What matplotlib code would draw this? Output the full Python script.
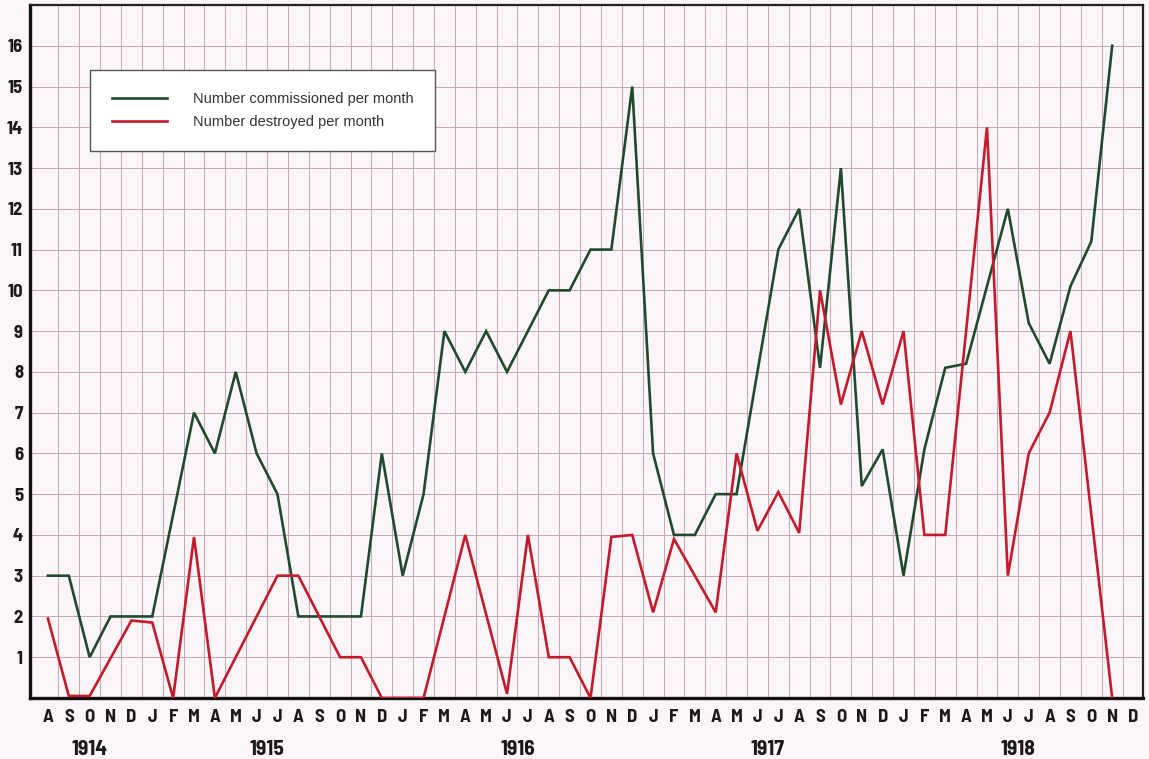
import matplotlib
matplotlib.use("Agg")
import matplotlib.pyplot as plt
import pandas as pd

# Month axis: August 1914 to December 1918
month_labels = ["A", "S", "O", "N", "D",
                "J", "F", "M", "A", "M", "J", "J", "A", "S", "O", "N", "D",
                "J", "F", "M", "A", "M", "J", "J", "A", "S", "O", "N", "D",
                "J", "F", "M", "A", "M", "J", "J", "A", "S", "O", "N", "D",
                "J", "F", "M", "A", "M", "J", "J", "A", "S", "O", "N", "D"]
years = ["1914", "1915", "1916", "1917", "1918"]

commissioned_months = [
    "1914-08", "1914-09", "1914-10", "1914-11", "1914-12",
    "1915-01", "1915-03", "1915-04", "1915-05", "1915-06", "1915-07",
    "1915-08", "1915-09", "1915-10", "1915-11", "1915-12",
    "1916-01", "1916-02", "1916-03", "1916-04", "1916-05", "1916-06",
    "1916-08", "1916-09", "1916-10", "1916-11", "1916-12",
    "1917-01", "1917-02", "1917-03", "1917-04", "1917-05",
    "1917-07", "1917-08", "1917-09", "1917-10", "1917-11", "1917-12",
    "1918-01", "1918-02", "1918-03", "1918-04",
    "1918-06", "1918-07", "1918-08", "1918-09", "1918-10", "1918-11"]
commissioned = [
    3, 3, 1, 2, 2,
    2, 7, 6, 8, 6, 5,
    2, 2, 2, 2, 6,
    3, 5, 9, 8, 9, 8,
    10, 10, 11, 11, 15,
    6, 4, 4, 5, 5,
    11, 12, 8.1, 13, 5.2, 6.1,
    3, 6.1, 8.1, 8.2,
    12, 9.2, 8.2, 10.1, 11.2, 16]

destroyed_months = [
    "1914-08", "1914-09", "1914-10", "1914-12",
    "1915-01", "1915-02", "1915-03", "1915-04", "1915-07", "1915-08",
    "1915-10", "1915-11", "1915-12",
    "1916-02", "1916-04", "1916-06", "1916-07", "1916-08", "1916-09",
    "1916-10", "1916-11", "1916-12",
    "1917-01", "1917-02", "1917-04", "1917-05", "1917-06", "1917-07",
    "1917-08", "1917-09", "1917-10", "1917-11", "1917-12",
    "1918-01", "1918-02", "1918-03", "1918-05", "1918-06", "1918-07",
    "1918-08", "1918-09", "1918-11"]
destroyed = [
    1.95, 0.05, 0.05, 1.9,
    1.85, 0, 3.95, 0, 3, 3,
    1, 1, 0,
    0, 4, 0.1, 4, 1, 1,
    0, 3.95, 4,
    2.1, 3.9, 2.1, 6, 4.1, 5.05,
    4.05, 10, 7.2, 9, 7.2,
    9, 4, 4, 14, 3, 6,
    7, 9, 0]

GREEN = "#1f4a2f"
RED = "#c41a2b"
PAPER = "#fcf5f8"
GRID = "#c4a8b3"
INK = "#1a1a1a"

CONDENSED = ["Barlow Semi Condensed", "Barlow Condensed", "Roboto Condensed", "DejaVu Sans"]
REGULAR = ["Liberation Sans", "DejaVu Sans"]

start = pd.Period("1914-08", freq="M")


def month_index(months):
    return [(pd.Period(m, freq="M") - start).n for m in months]


plt.rcParams["font.family"] = CONDENSED

fig = plt.figure(figsize=(11.49, 7.59), dpi=100, facecolor=PAPER)
ax = fig.add_axes([0.0261, 0.0804, 0.9691, 0.9130], facecolor=PAPER)

# Graph-paper grid: one column per month, one row per unit
for b in range(len(month_labels) - 1):
    ax.axvline(b + 0.5, color=GRID, lw=0.7, zorder=1)
for v in range(1, 17):
    ax.axhline(v, color=GRID, lw=0.7, zorder=1)

ax.plot(month_index(commissioned_months), commissioned, color=GREEN, lw=1.9,
        solid_joinstyle="miter", zorder=3, label="Number commissioned per month")
ax.plot(month_index(destroyed_months), destroyed, color=RED, lw=1.9,
        solid_joinstyle="miter", zorder=3, label="Number destroyed per month")

ax.set_xlim(-0.86, len(month_labels) - 0.5)
ax.set_ylim(0, 17)

ax.set_xticks(range(len(month_labels)))
ax.set_xticklabels(month_labels)
ax.set_yticks(range(1, 17))
ax.set_yticklabels([str(v) for v in range(1, 17)])
ax.tick_params(axis="both", length=0, labelsize=13.5, colors=INK)
ax.tick_params(axis="x", pad=8)
ax.tick_params(axis="y", pad=5)
for lab in ax.get_xticklabels() + ax.get_yticklabels():
    lab.set_fontweight("bold")

# Year captions centred under each year's months
year_of_month = [1914] * 5 + [1915] * 12 + [1916] * 12 + [1917] * 12 + [1918] * 12
for y in years:
    idx = [i for i, yy in enumerate(year_of_month) if str(yy) == y]
    ax.text(sum(idx) / len(idx), -0.075, y, transform=ax.get_xaxis_transform(),
            ha="center", va="center", fontsize=15.5, fontweight="bold", color=INK)

for side in ("left", "bottom"):
    ax.spines[side].set_linewidth(2.4)
    ax.spines[side].set_color("#111111")
for side in ("top", "right"):
    ax.spines[side].set_linewidth(1.6)
    ax.spines[side].set_color("#222222")

leg = ax.legend(loc="upper left", bbox_to_anchor=(0.0538, 0.906), borderaxespad=0,
                prop={"family": REGULAR, "size": 10.5},
                frameon=True, fancybox=False, framealpha=1, borderpad=1.5,
                handlelength=3.8, handletextpad=1.75, labelspacing=0.6)
leg.get_frame().set_edgecolor("#555555")
leg.get_frame().set_linewidth(1.0)
leg.get_frame().set_facecolor("white")
for t in leg.get_texts():
    t.set_color("#333333")

fig.savefig("out.png", dpi=100, facecolor=PAPER)
